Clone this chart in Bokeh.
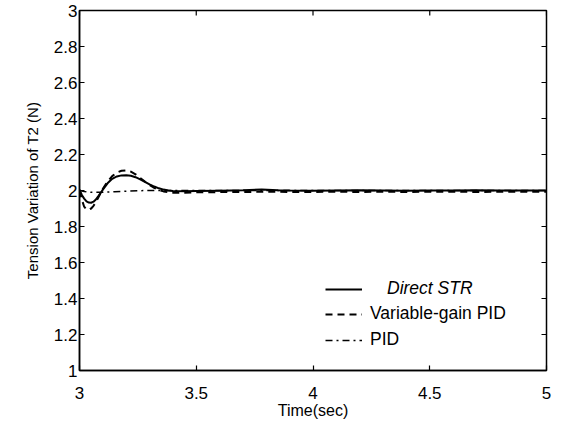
import math
from bokeh.plotting import figure
from bokeh.models import Range1d, FixedTicker, Legend, LegendItem
from bokeh.embed import file_html
from bokeh.resources import INLINE

# ---- data ----
t_str = [3.00, 3.01, 3.02, 3.03, 3.04, 3.05, 3.06, 3.07, 3.08, 3.09, 3.10,
         3.12, 3.14, 3.16, 3.18, 3.20, 3.22, 3.24, 3.26, 3.28, 3.30, 3.32,
         3.34, 3.36, 3.38, 3.40, 3.45, 3.50, 3.60, 3.70, 3.78, 3.85, 3.90,
         4.00, 4.10, 4.20, 4.30, 4.40, 4.50, 4.60, 4.70, 4.80, 4.90, 5.00]
y_str = [2.005, 1.975, 1.955, 1.940, 1.933, 1.932, 1.938, 1.950, 1.967, 1.985, 2.005,
         2.040, 2.065, 2.078, 2.084, 2.085, 2.082, 2.074, 2.062, 2.048, 2.034, 2.022,
         2.012, 2.005, 2.000, 1.997, 1.996, 1.997, 1.999, 2.001, 2.006, 2.001, 2.000,
         1.999, 2.000, 2.001, 2.000, 1.999, 2.000, 2.000, 2.001, 2.000, 2.000, 2.000]

t_vg = [3.00, 3.01, 3.02, 3.03, 3.04, 3.05, 3.06, 3.07, 3.08, 3.09, 3.10,
        3.12, 3.14, 3.16, 3.18, 3.20, 3.22, 3.24, 3.26, 3.28, 3.30, 3.32,
        3.34, 3.36, 3.38, 3.40, 3.45, 3.50, 3.60, 3.70, 3.80, 3.90,
        4.00, 4.10, 4.20, 4.30, 4.40, 4.50, 4.60, 4.70, 4.80, 4.90, 5.00]
y_vg = [2.000, 1.950, 1.910, 1.895, 1.893, 1.900, 1.915, 1.935, 1.960, 1.985, 2.010,
        2.050, 2.080, 2.100, 2.110, 2.112, 2.105, 2.090, 2.070, 2.050, 2.030, 2.015,
        2.003, 1.995, 1.990, 1.988, 1.988, 1.990, 1.991, 1.992, 1.993, 1.992,
        1.992, 1.993, 1.992, 1.993, 1.992, 1.993, 1.993, 1.992, 1.993, 1.993, 1.993]

t_pid = [3.00, 3.02, 3.05, 3.10, 3.15, 3.20, 3.25, 3.30, 3.35, 3.40, 3.50,
         3.75, 4.00, 4.25, 4.50, 4.75, 5.00]
y_pid = [2.000, 1.995, 1.990, 1.990, 1.993, 1.996, 1.999, 2.000, 2.000, 2.000, 2.000,
         2.000, 2.000, 2.000, 2.000, 2.000, 2.000]

x_ticks = [3, 3.5, 4, 4.5, 5]
x_tick_labels = ["3", "3.5", "4", "4.5", "5"]
y_ticks = [1, 1.2, 1.4, 1.6, 1.8, 2, 2.2, 2.4, 2.6, 2.8, 3]
y_tick_labels = ["1", "1.2", "1.4", "1.6", "1.8", "2", "2.2", "2.4", "2.6", "2.8", "3"]

series_labels = ["Direct STR", "Variable-gain PID", "PID"]
x_title = "Time(sec)"
y_title = "Tension Variation of T2 (N)"

X_MIN, X_MAX = 3, 5
Y_MIN, Y_MAX = 1, 3

FONT = "Liberation Sans"

p = figure(width=571, height=424, output_backend="svg", toolbar_location=None,
           x_range=Range1d(X_MIN, X_MAX), y_range=Range1d(Y_MIN, Y_MAX),
           frame_width=467, frame_height=360,
           min_border_left=79, min_border_top=10, min_border_right=25,
           min_border_bottom=10)
p.background_fill_color = "white"
p.border_fill_color = "white"
p.outline_line_color = "black"
p.outline_line_width = 1.5
p.grid.visible = False

for ax in (p.xaxis[0], p.yaxis[0]):
    ax.axis_line_color = "black"
    ax.axis_line_width = 1.5
    ax.major_tick_in = 5
    ax.major_tick_out = 0
    ax.minor_tick_line_color = None
    ax.major_tick_line_color = "black"
    ax.major_tick_line_width = 1.2
    ax.major_label_text_font = FONT
    ax.major_label_text_font_size = "17px"
    ax.major_label_text_color = "black"
    ax.axis_label_text_font = FONT
    ax.axis_label_text_font_style = "normal"
    ax.axis_label_text_color = "black"

xa = p.xaxis[0]
ya = p.yaxis[0]
xa.ticker = FixedTicker(ticks=x_ticks)
ya.ticker = FixedTicker(ticks=y_ticks)
xa.major_label_overrides = {t: l for t, l in zip(x_ticks, x_tick_labels)}
ya.major_label_overrides = {t: l for t, l in zip(y_ticks, y_tick_labels)}
xa.axis_label = x_title
ya.axis_label = y_title
xa.axis_label_text_font_size = "16px"
ya.axis_label_text_font_size = "15px"
xa.major_label_standoff = 16
xa.axis_label_standoff = 0
ya.major_label_standoff = 2
ya.axis_label_standoff = 10

# inward ticks on the top and right edges of the box (MATLAB "box on")
p.scatter(x_ticks, [Y_MAX] * len(x_ticks), marker="dash", angle=math.pi / 2,
          size=10, line_color="black", line_width=1.2)
p.scatter([X_MAX] * len(y_ticks), y_ticks, marker="dash",
          size=10, line_color="black", line_width=1.2)

r1 = p.line(t_str, y_str, line_color="black", line_width=2)
r2 = p.line(t_vg, y_vg, line_color="black", line_width=2, line_dash="7 5")
r3 = p.line(t_pid, y_pid, line_color="black", line_width=1.5, line_dash="7 4 2 4")


def make_legend(items, loc, standoff, style):
    lg = Legend(items=items, location=loc, orientation="vertical")
    lg.background_fill_alpha = 0
    lg.border_line_color = None
    lg.padding = 0
    lg.margin = 0
    lg.spacing = 5
    lg.glyph_width = 37
    lg.glyph_height = 20
    lg.label_height = 20
    lg.label_standoff = standoff
    lg.label_text_font = FONT
    lg.label_text_font_size = "17.5px"
    lg.label_text_font_style = style
    lg.label_text_color = "black"
    return lg


leg1 = make_legend([LegendItem(label=series_labels[0], renderers=[r1])],
                   (246, 71), 25, "italic")
leg2 = make_legend([LegendItem(label=series_labels[1], renderers=[r2]),
                    LegendItem(label=series_labels[2], renderers=[r3])],
                   (246, 20), 8, "normal")
p.add_layout(leg1, "center")
p.add_layout(leg2, "center")

open("out.html", "w").write(file_html(p, INLINE))
